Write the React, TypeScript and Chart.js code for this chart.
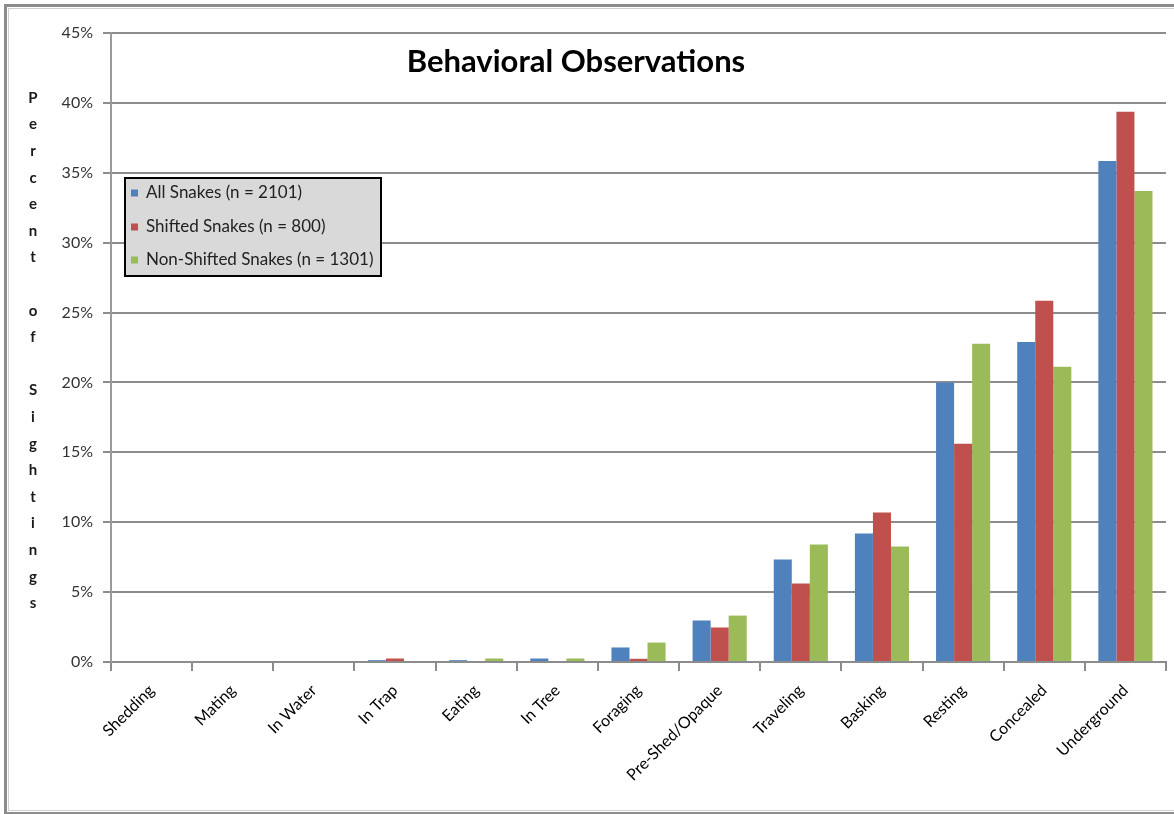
import React, { useEffect, useRef } from "react";
import { Chart, registerables } from "chart.js";

Chart.register(...registerables);

const categories = [
  "Shedding",
  "Mating",
  "In Water",
  "In Trap",
  "Eating",
  "In Tree",
  "Foraging",
  "Pre-Shed/Opaque",
  "Traveling",
  "Basking",
  "Resting",
  "Concealed",
  "Underground",
];

const allSnakes = [0, 0, 0, 0.13, 0.13, 0.25, 1.04, 2.97, 7.33, 9.19, 20.0, 22.9, 35.85];
const shiftedSnakes = [0, 0, 0, 0.25, 0, 0, 0.23, 2.47, 5.61, 10.69, 15.62, 25.84, 39.37];
const nonShiftedSnakes = [0, 0, 0, 0, 0.25, 0.25, 1.39, 3.32, 8.4, 8.26, 22.77, 21.12, 33.7];

const seriesNames = [
  "All Snakes (n = 2101)",
  "Shifted Snakes (n = 800)",
  "Non-Shifted Snakes (n = 1301)",
];
const seriesColors = ["#4F81BD", "#C0504D", "#9BBB59"];

const chartTitle = "Behavioral Observations";
const yTitleLetters = [
  "P", "e", "r", "c", "e", "n", "t", "", "o", "f", "", "S", "i", "g", "h", "t", "i", "n", "g", "s",
];
const yTicks = [0, 5, 10, 15, 20, 25, 30, 35, 40, 45];

const FONT = "Lato, 'Liberation Sans', sans-serif";

const decorPlugin = {
  id: "decor",
  beforeDraw(chart: any) {
    const ctx = chart.ctx;
    ctx.save();
    ctx.fillStyle = "#ffffff";
    ctx.fillRect(0, 0, chart.width, chart.height);
    // outer frame
    ctx.strokeStyle = "#8c8c8c";
    ctx.lineWidth = 3;
    ctx.strokeRect(5.5, 5.5, chart.width + 10, chart.height - 6);
    ctx.strokeStyle = "#d0d0d0";
    ctx.lineWidth = 1;
    ctx.strokeRect(8.5, 8.5, chart.width + 10, chart.height - 12);
    ctx.restore();
  },
  afterDraw(chart: any) {
    const ctx = chart.ctx;
    ctx.save();
    // title
    ctx.fillStyle = "#000000";
    ctx.font = `bold 31px ${FONT}`;
    ctx.textAlign = "center";
    ctx.textBaseline = "middle";
    ctx.fillText(chartTitle, 576, 62);

    // y-axis title, stacked letters
    ctx.font = `bold 15px ${FONT}`;
    ctx.fillStyle = "#1a1a1a";
    yTitleLetters.forEach((ch, i) => {
      if (ch) ctx.fillText(ch, 33, 98 + i * 26.6);
    });

    // legend box
    const lx = 125, ly = 178, lw = 256, lh = 98;
    ctx.fillStyle = "#d9d9d9";
    ctx.fillRect(lx, ly, lw, lh);
    ctx.strokeStyle = "#000000";
    ctx.lineWidth = 2;
    ctx.strokeRect(lx, ly, lw, lh);
    ctx.font = `17px ${FONT}`;
    ctx.textAlign = "left";
    ctx.textBaseline = "middle";
    const rows = [193, 227, 260];
    seriesNames.forEach((name, i) => {
      ctx.fillStyle = seriesColors[i];
      ctx.fillRect(131, rows[i] - 3.5, 7, 7);
      ctx.fillStyle = "#222222";
      ctx.fillText(name, 146, rows[i]);
    });
    ctx.restore();
  },
};

export default function App() {
  const canvasRef = useRef<HTMLCanvasElement | null>(null);

  useEffect(() => {
    if (!canvasRef.current) return;
    const data = [allSnakes, shiftedSnakes, nonShiftedSnakes];
    const chart = new Chart(canvasRef.current, {
      type: "bar",
      data: {
        labels: categories,
        datasets: seriesNames.map((name, i) => ({
          label: name,
          data: data[i],
          backgroundColor: seriesColors[i],
          borderWidth: 0,
          categoryPercentage: 0.667,
          barPercentage: 1.0,
        })),
      },
      options: {
        animation: false,
        responsive: true,
        maintainAspectRatio: false,
        layout: { padding: { left: 0, right: 8, top: 33, bottom: 0 } },
        plugins: {
          legend: { display: false },
          title: { display: false },
          tooltip: { enabled: false },
        },
        scales: {
          x: {
            afterFit: (s: any) => {
              s.height = 152;
            },
            grid: {
              display: true,
              drawOnChartArea: false,
              offset: true,
              tickLength: 9,
              color: "#8c8c8c",
              lineWidth: 2,
            },
            border: { display: true, color: "#8c8c8c", width: 2 },
            ticks: {
              autoSkip: false,
              maxRotation: 45,
              minRotation: 45,
              color: "#000000",
              font: { family: FONT, size: 16 },
              padding: 10,
            },
          },
          y: {
            min: 0,
            max: 45,
            afterFit: (s: any) => {
              s.width = 111;
            },
            afterBuildTicks: (s: any) => {
              s.ticks = yTicks.map((v) => ({ value: v }));
            },
            grid: {
              color: "#8c8c8c",
              lineWidth: 2,
              tickLength: 8,
            },
            border: { display: true, color: "#9a9a9a", width: 2 },
            ticks: {
              color: "#333333",
              font: { family: FONT, size: 16 },
              padding: 10,
              callback: (v: any) => `${v}%`,
            },
          },
        },
      },
      plugins: [decorPlugin],
    });
    return () => chart.destroy();
  }, []);

  return (
    <div
      style={{
        position: "fixed",
        left: 0,
        top: 0,
        width: 1174,
        height: 814,
        background: "#ffffff",
      }}
    >
      <canvas ref={canvasRef} />
    </div>
  );
}
